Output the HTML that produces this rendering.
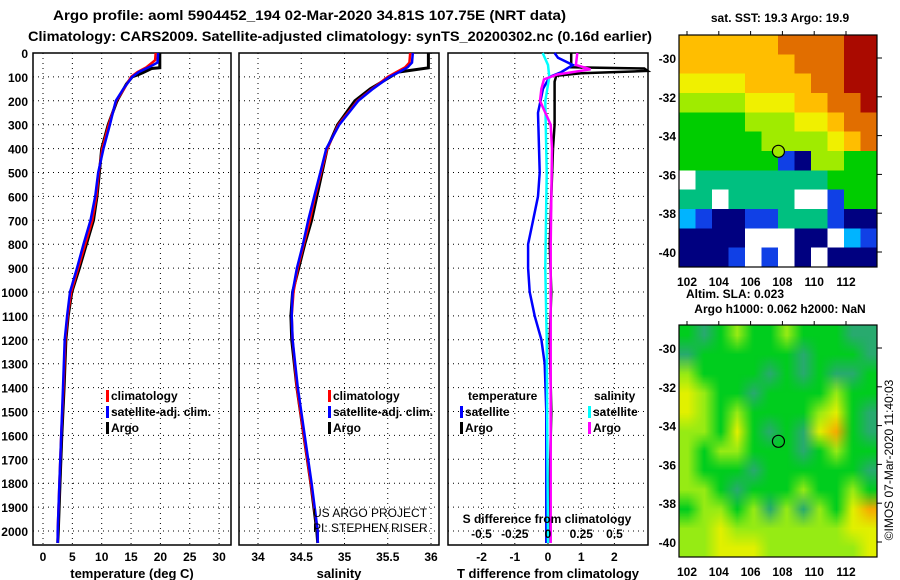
<!DOCTYPE html>
<html><head><meta charset="utf-8">
<style>
html,body{margin:0;padding:0;background:#fff;}
body{width:900px;height:580px;overflow:hidden;position:relative;font-family:"Liberation Sans",sans-serif;}
svg{position:absolute;left:0;top:0;}
canvas{position:absolute;}
#m1{left:679px;top:35px;width:198px;height:232px;image-rendering:pixelated;}
#m2{left:679px;top:325px;width:198px;height:232px;}
</style></head>
<body>
<canvas id="m1" width="12" height="12"></canvas>
<canvas id="m2" width="12" height="12"></canvas>
<svg id="s" width="900" height="580" xmlns="http://www.w3.org/2000/svg"></svg>
<script>
// ---- data ----
const depthTicks=[0,100,200,300,400,500,600,700,800,900,1000,1100,1200,1300,1400,1500,1600,1700,1800,1900,2000];
const tempTicks=[0,5,10,15,20,25,30];
const salTicks=[34,34.5,35,35.5,36];
const tdiffTicks=[-2,-1,0,1,2];
const sdiffTickLabels=["-0.5","-0.25","0","0.25","0.5"];
const sdiffTickVals=[-0.5,-0.25,0,0.25,0.5];
const argoT=[[0,19.9],[62,19.9],[65,18.5],[80,17.2],[90,16.3],[100,15.2],[130,14.2],[200,12.6],[300,11.1],[400,10.0],[500,9.6],[600,9.2],[700,8.6],[800,7.4],[900,6.2],[1000,4.9],[1100,4.3],[1200,3.9],[1400,3.6],[1600,3.2],[1800,2.9],[2000,2.6],[2050,2.5]];
const climT=[[0,19.2],[30,19.1],[60,17.6],[80,16.1],[100,15.0],[150,13.8],[200,12.5],[300,11.2],[400,10.1],[500,9.5],[600,9.1],[700,8.4],[800,7.2],[900,6.0],[1000,4.8],[1100,4.2],[1200,3.8],[1400,3.5],[1600,3.1],[1800,2.8],[2000,2.5],[2050,2.5]];
const satT=[[0,19.6],[40,19.5],[60,18.0],[80,16.3],[100,15.2],[150,13.7],[200,12.4],[300,11.4],[400,10.3],[500,9.4],[600,8.9],[700,8.1],[800,6.9],[900,5.8],[1000,4.6],[1100,4.1],[1200,3.7],[1400,3.4],[1600,3.1],[1800,2.8],[2000,2.5],[2050,2.5]];
const argoS=[[0,35.97],[62,35.97],[80,35.62],[100,35.53],[150,35.30],[200,35.12],[300,34.92],[400,34.80],[500,34.74],[600,34.68],[700,34.62],[800,34.54],[900,34.47],[1000,34.40],[1100,34.38],[1200,34.39],[1400,34.45],[1600,34.53],[1800,34.61],[2000,34.68],[2050,34.69]];
const climS=[[0,35.76],[40,35.75],[60,35.70],[80,35.60],[100,35.50],[150,35.32],[200,35.15],[300,34.93],[400,34.80],[500,34.73],[600,34.66],[700,34.60],[800,34.53],[900,34.46],[1000,34.41],[1100,34.39],[1200,34.40],[1400,34.45],[1600,34.53],[1800,34.61],[2000,34.69],[2050,34.69]];
const satS=[[0,35.79],[40,35.78],[60,35.73],[80,35.63],[100,35.52],[150,35.33],[200,35.16],[300,34.94],[400,34.79],[500,34.72],[600,34.65],[700,34.58],[800,34.52],[900,34.45],[1000,34.40],[1100,34.39],[1200,34.40],[1400,34.46],[1600,34.54],[1800,34.62],[2000,34.69],[2050,34.69]];
const argoTdiff=[[0,0.7],[60,0.7],[65,2.9],[75,3.0],[85,1.0],[95,0.25],[120,0.2],[200,0.2],[300,0.2],[400,0.15],[600,0.1],[800,0.05],[1000,0.1],[1200,0.05],[1500,0.1],[1800,0.05],[2050,0.0]];
const satTdiff=[[0,0.2],[20,0.3],[50,0.75],[80,0.4],[100,0.05],[150,-0.15],[250,-0.3],[500,-0.25],[600,-0.3],[700,-0.45],[800,-0.6],[900,-0.6],[1000,-0.55],[1100,-0.4],[1200,-0.2],[1300,-0.1],[1500,-0.05],[2050,-0.05]];
const satSdiff=[[0,-0.04],[50,0.0],[100,0.01],[200,-0.02],[500,-0.01],[900,-0.02],[1200,-0.01],[2050,0.0]];
const argoSdiff=[[0,0.22],[50,0.21],[68,0.32],[90,0.07],[110,-0.03],[150,-0.05],[200,-0.06],[250,-0.02],[300,0.02],[400,0.03],[800,0.02],[1200,0.02],[2050,0.02]];
const sstGrid=["777777888899","777777788899","666677778899","555566677889","444455566788","444445555678","444444105544","W33333333444","33W3333WW144","210011333100","0000WWW00W21","0001W1W0W000"];
const slaGrid=["101211211100","011111101110","211110101001","321101111211","321211112310","221310103410","212211101211","211101111110","221011121121","122120202134","223222222233","223332222223"];
const lonTicks=[102,104,106,108,110,112];
const latTicks=[-30,-32,-34,-36,-38,-40];
const argoPos=[107.75,-34.81];

// ---- geometry ----
const NS="http://www.w3.org/2000/svg";
const s=document.getElementById('s');
const TOP=53,BOT=545;
const yD=d=>TOP+d*0.239;
const P1={l:33,r:231,x:v=>43+5.87*v};
const P2={l:239,r:439,x:v=>258+86.5*(v-34)};
const P3={l:448,r:648,x:v=>548+33.2*v};
const xS=v=>548+133*v;
function el(tag,attrs,parent){const e=document.createElementNS(NS,tag);for(const k in attrs)e.setAttribute(k,attrs[k]);(parent||s).appendChild(e);return e;}
function txt(x,y,str,o){const e=el('text',Object.assign({x:x,y:y,'font-size':13,'font-weight':'bold','font-family':'Liberation Sans, sans-serif',fill:'#000'},o||{}));e.textContent=str;return e;}

// titles
let t=txt(53,20,"Argo profile: aoml 5904452_194 02-Mar-2020 34.81S 107.75E (NRT data)",{textLength:513,lengthAdjust:'spacingAndGlyphs','font-size':14});


t=txt(28,41,"Climatology: CARS2009. Satellite-adjusted climatology: synTS_20200302.nc (0.16d earlier)",{textLength:624,lengthAdjust:'spacingAndGlyphs','font-size':14});



// y tick labels
depthTicks.forEach(d=>{const e=txt(28,yD(d)+5,String(d),{'text-anchor':'end','font-size':12});

});

function panel(P,ticks,labels,name,xtitle){
  const g=el('g',{});
  
  
  depthTicks.forEach(d=>{if(d>0)el('line',{x1:P.l,x2:P.r,y1:yD(d),y2:yD(d),stroke:'#000','stroke-width':1,'stroke-dasharray':'1,4'},g);});
  ticks.forEach((v,i)=>{const x=P.x(v);el('line',{x1:x,x2:x,y1:TOP,y2:BOT,stroke:'#000','stroke-width':1,'stroke-dasharray':'1,4'},g);
    const e=txt(x,561,labels[i],{'text-anchor':'middle','font-size':12});
    
    });
  el('rect',{x:P.l,y:TOP,width:P.r-P.l,height:BOT-TOP,fill:'none',stroke:'#000','stroke-width':1.5},g);
  const e=txt((P.l+P.r)/2,578,xtitle,{'text-anchor':'middle','font-size':13});
  
  
  return g;
}
function line(data,xf,color,name,w){
  const pts=data.map(p=>xf(p[1]).toFixed(1)+','+yD(p[0]).toFixed(1)).join(' ');
  const e=el('polyline',{points:pts,fill:'none',stroke:color,'stroke-width':w||2.5,'stroke-linejoin':'miter'});
  
  
}
panel(P1,tempTicks,tempTicks.map(String),'temperature-panel','temperature (deg C)');
panel(P2,salTicks,salTicks.map(String),'salinity-panel','salinity');
panel(P3,tdiffTicks,tdiffTicks.map(String),'difference-panel','T difference from climatology');

// clip region
const cp=el('clipPath',{id:'c3'});el('rect',{x:P3.l,y:TOP,width:P3.r-P3.l,height:BOT-TOP},cp);

line(argoT,P1.x,'#000','argo-temperature-line',3);
line(climT,P1.x,'#f00','clim-temperature-line');
line(satT,P1.x,'#00f','sat-temperature-line');
line(argoS,P2.x,'#000','argo-salinity-line',3);
line(climS,P2.x,'#f00','clim-salinity-line');
line(satS,P2.x,'#00f','sat-salinity-line');
line(argoTdiff,P3.x,'#000','argo-tdiff-line');
line(satTdiff,P3.x,'#00f','sat-tdiff-line');
line(satSdiff,xS,'#0ff','sat-sdiff-line');
line(argoSdiff,xS,'#f0f','argo-sdiff-line');

// legends
function legItem(x,y,color,label,name){
  el('rect',{x:x,y:y-10,width:3,height:12,fill:color});
  const e=txt(x+5,y,label,{'font-size':12});
  e.setAitem=0;
  
  
}
legItem(106,400,'#f00','climatology','legend-climatology');
legItem(106,416,'#00f','satellite-adj. clim.','legend-satellite');
legItem(106,432,'#000','Argo','legend-argo');
legItem(328,400,'#f00','climatology','legend-climatology-2');
legItem(328,416,'#00f','satellite-adj. clim.','legend-satellite-2');
legItem(328,432,'#000','Argo','legend-argo-2');
t=txt(468,400,'temperature',{'font-size':12});
t=txt(594,400,'salinity',{'font-size':12});
legItem(460,416,'#00f','satellite','legend-tdiff-satellite');
legItem(460,432,'#000','Argo','legend-tdiff-argo');
legItem(588,416,'#0ff','satellite','legend-sdiff-satellite');
legItem(588,432,'#f0f','Argo','legend-sdiff-argo');
t=txt(547,523,'S difference from climatology',{'font-size':12,'text-anchor':'middle'});
sdiffTickVals.forEach((v,i)=>{const e=txt(xS(v),538,sdiffTickLabels[i],{'font-size':12,'text-anchor':'middle'});

});
t=txt(313,517,'US ARGO PROJECT',{'font-size':12,'font-weight':'normal'});
t=txt(313,532,'PI: STEPHEN RISER',{'font-size':12,'font-weight':'normal'});

// ---- maps ----
const M={l:679,r:877,lon:v=>687+15.9*(v-102)};
const sstColors={W:[255,255,255],'0':[0,0,128],'1':[16,64,230],'2':[0,180,255],'3':[0,192,128],'4':[0,205,0],'5':[160,235,0],'6':[240,240,0],'7':[255,190,0],'8':[225,110,0],'9':[170,10,0]};
const slaColors={'0':[40,170,110],'1':[0,205,30],'2':[150,235,20],'3':[225,240,0],'4':[245,170,0]};
function drawMap(id,grid,cols,smooth){
  const c=document.getElementById(id),x=c.getContext('2d');
  grid.forEach((row,r)=>{for(let i=0;i<row.length;i++){const k=cols[row[i]];x.fillStyle='rgb('+k.join(',')+')';x.fillRect(i,r,1,1);}});
}
drawMap('m1',sstGrid,sstColors);
drawMap('m2',slaGrid,slaColors);
function mapFrame(top,latY,title,titleY,name){
  const g=el('g',{});
  
  
  el('rect',{x:M.l,y:top,width:M.r-M.l,height:232,fill:'none',stroke:'#000','stroke-width':1.2},g);
  lonTicks.forEach(v=>{const x=M.lon(v);el('line',{x1:x,x2:x,y1:top-4,y2:top,stroke:'#000'},g);
    const e=txt(x,top+251,String(v),{'font-size':12,'text-anchor':'middle'});
    
    });
  latTicks.forEach(v=>{const y=latY(v);el('line',{x1:M.r,x2:M.r+5,y1:y,y2:y,stroke:'#000'},g);
    const e=txt(676,y+5,String(v),{'font-size':12,'text-anchor':'end'});
    
    });
  const e=txt(780,titleY,title,{'font-size':12,'text-anchor':'middle'});
  
  
}
const lat1=v=>58+19.4*(-30-v), lat2=v=>348+19.4*(-30-v);
mapFrame(35,lat1,'sat. SST: 19.3 Argo: 19.9',22,'sst-map-frame');
mapFrame(325,lat2,'Argo h1000: 0.062 h2000: NaN',313,'sla-map-frame');
t=txt(735,298,'Altim. SLA: 0.023',{'font-size':12,'text-anchor':'middle'});
let c1=el('circle',{cx:M.lon(argoPos[0]),cy:lat1(argoPos[1]),r:6,fill:'#a0e800',stroke:'#000','stroke-width':1.2});


let c2=el('circle',{cx:M.lon(argoPos[0]),cy:lat2(argoPos[1]),r:6,fill:'none',stroke:'#000','stroke-width':1.2});


t=txt(0,0,'©IMOS 07-Mar-2020 11:40:03',{'font-size':12,'font-weight':'normal','text-anchor':'middle',transform:'translate(893,460) rotate(-90)'});


</script>
</body></html>
